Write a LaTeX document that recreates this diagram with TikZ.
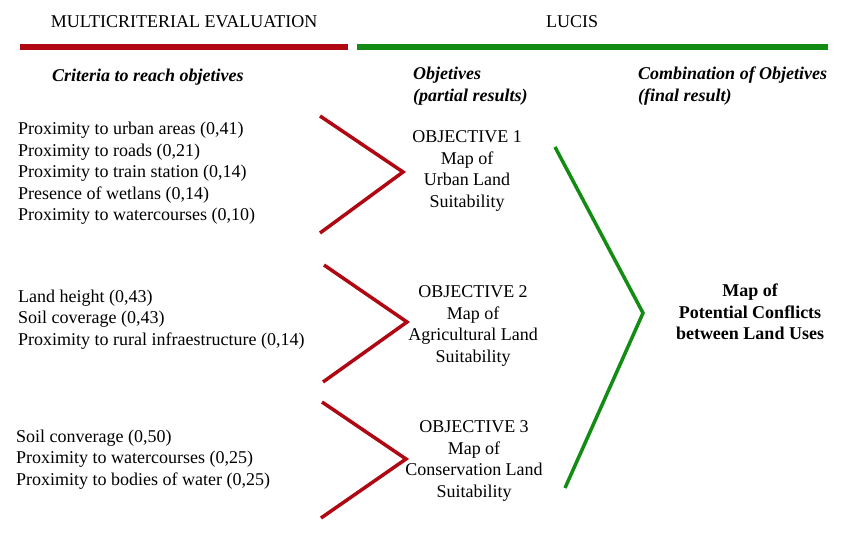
\documentclass[tikz,border=0pt]{standalone}
\usepackage{fontspec}
\setmainfont{Liberation Serif}
\definecolor{mred}{RGB}{176,8,18}
\definecolor{mgreen}{RGB}{18,140,18}
\tikzset{
  txt/.style={inner sep=0pt, font=\fontsize{18}{21.5}\selectfont},
  crit/.style={txt, align=left, anchor=west},
  obj/.style={txt, align=center},
  head/.style={txt, font=\fontsize{18}{21.5}\selectfont\bfseries\itshape, align=left, anchor=west},
  bar/.style={line width=5.5pt},
  chev/.style={line width=3.5pt, line join=miter},
}
\begin{document}
\begin{tikzpicture}[x=1pt,y=-1pt]
\useasboundingbox (0,0) rectangle (842,536);
% header titles
\node[txt] (mce) at (184,22) {MULTICRITERIAL EVALUATION};
\node[txt] (lucis) at (572,22) {LUCIS};
% bars
\coordinate (rb1) at (20,47);
\coordinate (rb2) at (348,47);
\coordinate (gb1) at (357,47);
\coordinate (gb2) at (828,47);
\draw[bar, mred] (rb1) -- (rb2);
\draw[bar, mgreen] (gb1) -- (gb2);
% sub headers
\node[head] (crit) at (52,77) {Criteria to reach objetives};
\node[head] (objs) at (413,86) {Objetives\\(partial results)};
\node[head] (comb) at (638,86) {Combination of Objetives\\(final result)};
% criteria groups
\node[crit] (g1) at (18,173.5) {Proximity to urban areas (0,41)\\Proximity to roads (0,21)\\Proximity to train station (0,14)\\Presence of wetlans (0,14)\\Proximity to watercourses (0,10)};
\node[crit] (g2) at (18,319.5) {Land height (0,43)\\Soil coverage (0,43)\\Proximity to rural infraestructure (0,14)};
\node[crit] (g3) at (16,459.5) {Soil converage (0,50)\\Proximity to watercourses (0,25)\\Proximity to bodies of water (0,25)};
% objectives
\node[obj] (o1) at (467,171) {OBJECTIVE 1\\Map of\\Urban Land\\Suitability};
\node[obj] (o2) at (473,326) {OBJECTIVE 2\\Map of\\Agricultural Land\\Suitability};
\node[obj] (o3) at (474,461) {OBJECTIVE 3\\Map of\\Conservation Land\\Suitability};
% final
\node[obj, font=\fontsize{18}{21.5}\selectfont\bfseries] (fin) at (750,312) {Map of\\Potential Conflicts\\between Land Uses};
% chevrons
\coordinate (c1a) at (320,116); \coordinate (c1v) at (403,172); \coordinate (c1b) at (320,233);
\coordinate (c2a) at (324,265); \coordinate (c2v) at (407,322); \coordinate (c2b) at (323,382);
\coordinate (c3a) at (322,402); \coordinate (c3v) at (406,459); \coordinate (c3b) at (321,518);
\coordinate (cga) at (555,147); \coordinate (cgv) at (643,313); \coordinate (cgb) at (565,488);
\draw[chev, mred] (c1a) -- (c1v) -- (c1b);
\draw[chev, mred] (c2a) -- (c2v) -- (c2b);
\draw[chev, mred] (c3a) -- (c3v) -- (c3b);
\draw[chev, mgreen] (cga) -- (cgv) -- (cgb);
\end{tikzpicture}
\end{document}
